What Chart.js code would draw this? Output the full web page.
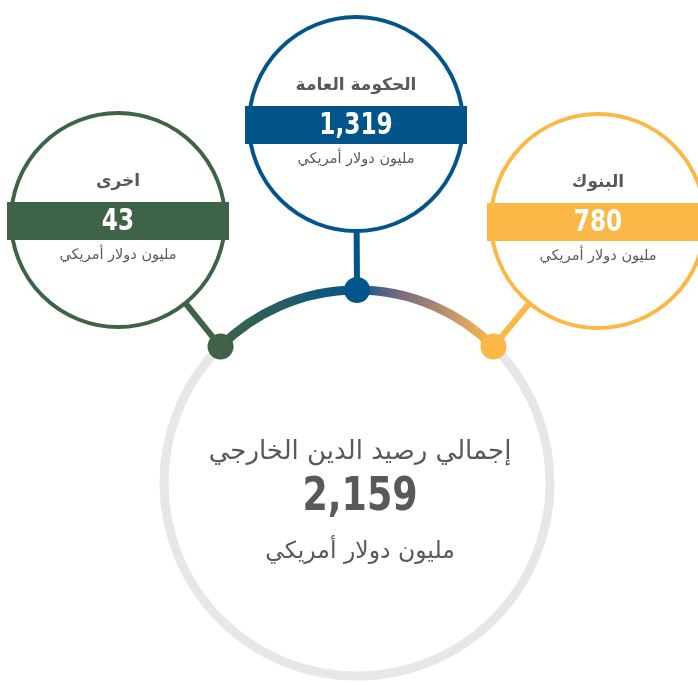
<!DOCTYPE html>
<html lang="ar">
<head>
<meta charset="utf-8">
<script src="https://cdn.jsdelivr.net/npm/chart.js@4.4.1/dist/chart.umd.min.js"></script>
<style>
  html, body { margin: 0; padding: 0; background: #fff; }
  canvas { display: block; }
</style>
</head>
<body>
<canvas id="debtChart" width="698" height="685"></canvas>
<script>
const categories = ['اخرى', 'الحكومة العامة', 'البنوك'];
const values = [43, 1319, 780];
const colors = ['#3e6347', '#02558b', '#fbb846'];
const unitLabel = 'مليون دولار أمريكي';
const totalLabel = 'إجمالي رصيد الدين الخارجي';
const totalValue = 2159;

// layout, in scale units (scales map 1:1 onto the canvas)
const ring = { x: 357, y: 483, r: 193 };
const dotAngles = [-45, 0, 45]; // degrees from the top of the ring
const bubbles = [{ x: 118, y: 220 }, { x: 356, y: 124 }, { x: 598, y: 221 }];
const bubbleR = 107;

const textGray = '#58595b';
const arabicFont = '"DejaVu Sans", sans-serif';
const numFont = '"DejaVu Sans Condensed", "DejaVu Sans", sans-serif';

const rad = d => d * Math.PI / 180;
const dots = dotAngles.map(a => ({
  x: ring.x + ring.r * Math.sin(rad(a)),
  y: ring.y - ring.r * Math.cos(rad(a))
}));

const fmt = v => v.toLocaleString('en-US');

// narrow numbers, like the condensed face of the original
function drawNumber(ctx, text, px, py, squeeze) {
  ctx.save();
  ctx.translate(px, py);
  ctx.scale(squeeze, 1);
  ctx.fillText(text, 0, 0);
  ctx.restore();
}

// gradient arc on top of the grey ring, between the outer dots
const arcPlugin = {
  id: 'arcPlugin',
  afterDatasetDraw(chart, args) {
    if (args.index !== chart.data.datasets.length - 1) return;
    const { ctx, scales: { x, y } } = chart;
    const cx = x.getPixelForValue(ring.x);
    const cy = y.getPixelForValue(ring.y);
    const x0 = x.getPixelForValue(dots[0].x);
    const x1 = x.getPixelForValue(dots[2].x);
    const grad = ctx.createLinearGradient(x0, 0, x1, 0);
    grad.addColorStop(0, colors[0]);
    grad.addColorStop(0.5, colors[1]);
    grad.addColorStop(0.62, '#636583');
    grad.addColorStop(0.75, '#9a7d75');
    grad.addColorStop(0.88, '#d49e66');
    grad.addColorStop(1, colors[2]);
    ctx.save();
    ctx.beginPath();
    ctx.arc(cx, cy, ring.r, rad(-90 + dotAngles[0]), rad(-90 + dotAngles[2]));
    ctx.strokeStyle = grad;
    ctx.lineWidth = 9;
    ctx.stroke();
    ctx.restore();
  }
};

// bands and texts
const labelPlugin = {
  id: 'labelPlugin',
  afterDatasetsDraw(chart) {
    const { ctx, scales: { x, y } } = chart;
    ctx.save();
    ctx.textAlign = 'center';
    ctx.textBaseline = 'middle';

    categories.forEach((cat, i) => {
      const bx = x.getPixelForValue(bubbles[i].x);
      const by = y.getPixelForValue(bubbles[i].y);
      const half = bubbleR + 4;
      ctx.fillStyle = colors[i];
      ctx.fillRect(bx - half, by + 1 - 19, half * 2, 38);

      ctx.fillStyle = '#fff';
      ctx.font = 'bold 30px ' + numFont;
      drawNumber(ctx, fmt(values[i]), bx, by + 2, 0.86);

      ctx.fillStyle = textGray;
      ctx.direction = 'rtl';
      ctx.font = 'bold 17px ' + arabicFont;
      ctx.fillText(cat, bx, by - 38);
      ctx.font = '14.5px ' + arabicFont;
      ctx.fillText(unitLabel, bx, by + 35);
      ctx.direction = 'ltr';
    });

    const cx = x.getPixelForValue(ring.x) + 3;
    const cy = y.getPixelForValue(ring.y);
    ctx.fillStyle = textGray;
    ctx.direction = 'rtl';
    ctx.font = '26px ' + arabicFont;
    ctx.fillText(totalLabel, cx, cy - 31);
    ctx.font = '23.5px ' + arabicFont;
    ctx.fillText(unitLabel, cx, cy + 69);
    ctx.direction = 'ltr';
    ctx.font = 'bold 46px ' + numFont;
    drawNumber(ctx, fmt(totalValue), cx, cy + 15, 0.88);
    ctx.restore();
  }
};

new Chart(document.getElementById('debtChart'), {
  type: 'scatter',
  data: {
    datasets: [
      // dots on the ring
      { data: dots, pointRadius: 13, pointBackgroundColor: colors, pointBorderWidth: 0, clip: false, order: 1 },
      // category circles
      { data: bubbles, pointRadius: bubbleR, pointBackgroundColor: '#fff', pointBorderColor: colors,
        pointBorderWidth: 4, clip: false, order: 2 },
      // connectors
      ...categories.map((c, i) => ({
        type: 'line', data: [dots[i], bubbles[i]], borderColor: colors[i], borderWidth: 6,
        pointRadius: 0, clip: false, order: 3
      })),
      // grey ring
      { data: [ring], pointRadius: ring.r, pointBackgroundColor: 'rgba(0,0,0,0)', pointBorderColor: '#e6e7e8',
        pointBorderWidth: 9, clip: false, order: 4 }
    ]
  },
  options: {
    responsive: false,
    animation: false,
    events: [],
    layout: { padding: 0, autoPadding: false },
    plugins: { legend: { display: false }, tooltip: { enabled: false } },
    scales: {
      x: { type: 'linear', min: 0, max: 698, display: false },
      y: { type: 'linear', min: 0, max: 685, reverse: true, display: false }
    }
  },
  plugins: [arcPlugin, labelPlugin]
});
</script>
</body>
</html>
